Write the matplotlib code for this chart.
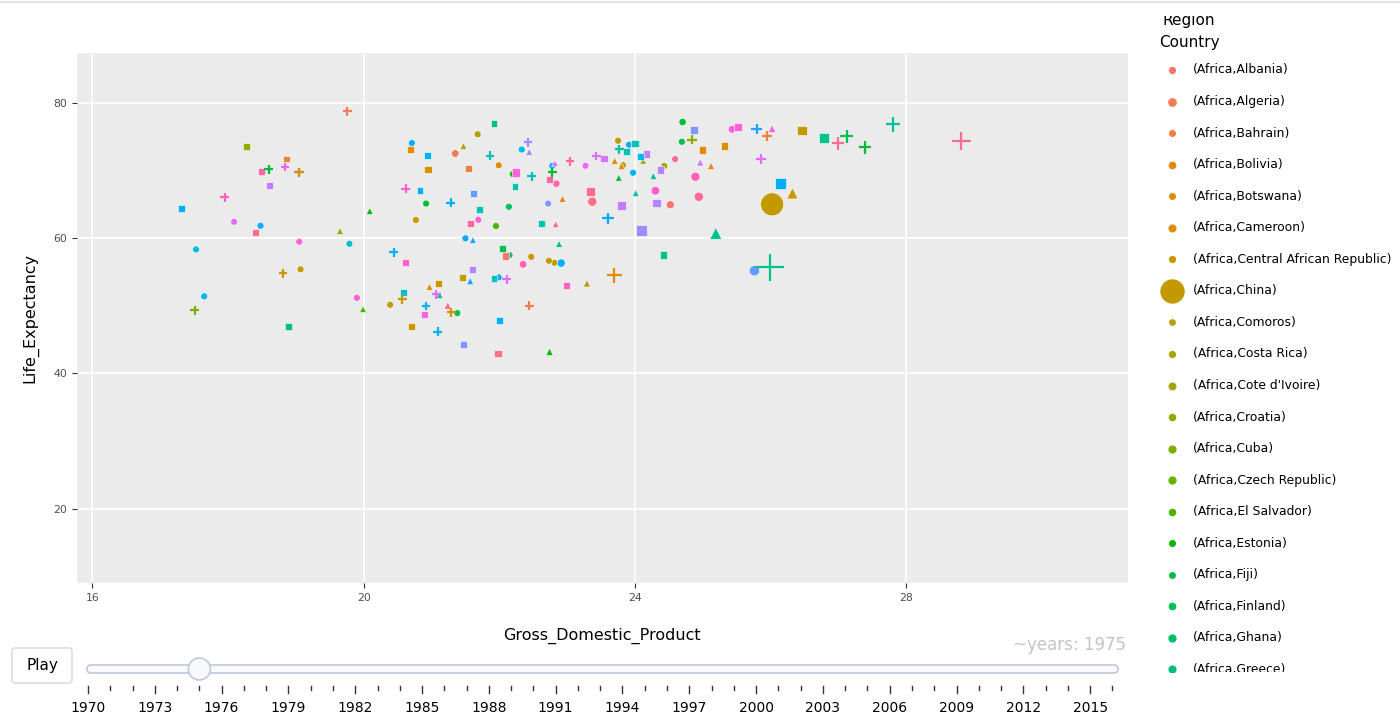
import numpy as np
import matplotlib
matplotlib.use('Agg')
import matplotlib.pyplot as plt
from matplotlib.patches import FancyBboxPatch, Circle

plt.rcParams['font.family'] = ['DejaVu Sans']

## data (frame: year 1975)
# circles
circ_gdp = [18.09, 18.48, 19.05, 17.53, 19.79, 19.07, 17.65, 19.90, 20.71, 21.35, 21.68, 20.92, 20.77,
            21.50, 21.38, 20.39, 21.99, 22.33, 22.20, 22.25, 22.14, 21.69, 21.95, 22.15, 22.47, 22.35,
            22.73, 22.81, 22.91, 21.99, 22.72, 23.37, 23.27, 23.75, 23.91, 23.82, 23.97, 24.43, 24.30,
            24.52, 24.59, 24.70, 24.69, 25.43, 24.89, 24.94, 26.02, 25.76, 22.78, 22.84]
circ_life = [62.43, 61.84, 59.47, 58.35, 59.18, 55.39, 51.40, 51.18, 74.08, 72.53, 75.37, 65.13, 62.69,
             59.98, 48.92, 50.15, 70.78, 73.12, 69.49, 69.60, 64.65, 62.73, 61.80, 57.50, 57.25, 56.13,
             56.67, 56.37, 56.32, 54.20, 65.13, 65.40, 70.72, 74.42, 73.83, 70.82, 69.69, 70.68, 67.02,
             64.95, 71.71, 77.19, 74.27, 76.11, 69.09, 66.13, 65.01, 55.19, 70.71, 68.06]
circ_country = [38, 29, 41, 25, 25, 7, 28, 42, 29, 1, 9, 16, 6, 30, 17, 7, 4, 27, 15, 29, 18, 41, 14, 19,
                5, 44, 7, 8, 29, 28, 33, 47, 39, 8, 31, 9, 29, 10, 43, 0, 46, 16, 17, 41, 44, 45, 7, 32,
                29, 45]
circ_pop = [10, 10, 10, 10, 10, 10, 10, 10, 10, 20, 10, 10, 10, 10, 10, 10, 10, 10, 10, 10, 10, 10, 10,
            10, 10, 20, 10, 10, 30, 10, 10, 50, 10, 10, 10, 10, 10, 10, 40, 25, 10, 15, 10, 20, 50, 50,
            920, 80, 10, 15]

# triangles
tri_gdp = [19.65, 20.09, 19.99, 21.47, 21.61, 21.57, 20.97, 21.12, 21.24, 22.44, 23.29, 22.74, 22.88,
           22.83, 22.93, 23.70, 23.80, 24.12, 23.76, 24.27, 24.01, 26.02, 24.96, 25.12, 26.32, 25.19, 22.82]
tri_life = [61.06, 64.02, 49.51, 73.64, 59.73, 53.66, 52.80, 51.58, 50.03, 72.78, 53.32, 43.19, 59.16,
            62.07, 65.82, 71.46, 70.68, 71.46, 68.95, 69.20, 66.68, 76.20, 71.22, 70.68, 66.64, 60.72, 71.08]
tri_country = [11, 15, 14, 9, 31, 31, 4, 21, 46, 35, 8, 15, 20, 47, 3, 5, 5, 9, 16, 21, 21, 40, 36, 3, 6,
               20, 37]
tri_pop = [10, 10, 10, 10, 10, 15, 10, 10, 15, 10, 15, 15, 10, 10, 10, 10, 15, 10, 10, 10, 10, 20, 15, 15,
           110, 130, 10]

# squares
sq_gdp = [18.27, 18.86, 18.50, 18.61, 17.31, 18.41, 18.89, 20.69, 20.94, 20.95, 21.54, 20.83, 21.62,
          21.57, 20.62, 21.61, 21.45, 21.10, 20.59, 20.90, 20.71, 21.47, 21.92, 22.24, 22.23, 21.71,
          22.04, 22.09, 21.92, 22.99, 22.00, 21.98, 22.62, 23.34, 23.80, 24.10, 23.54, 24.00, 23.87,
          24.08, 24.17, 24.37, 24.32, 24.87, 24.99, 25.32, 25.52, 26.14, 24.42, 26.46, 26.78, 22.74]
sq_life = [73.59, 71.71, 69.89, 67.82, 64.42, 60.86, 47.00, 73.15, 72.26, 70.19, 70.34, 67.12, 66.68,
           62.17, 56.43, 55.39, 54.15, 53.26, 52.00, 48.65, 47.00, 44.29, 77.00, 69.71, 67.69, 64.28,
           58.47, 57.35, 54.03, 52.96, 47.77, 42.93, 62.21, 66.86, 64.80, 61.10, 71.79, 73.98, 72.80,
           72.05, 72.45, 70.09, 65.20, 76.00, 73.04, 73.68, 76.49, 68.12, 57.50, 75.96, 74.82, 68.68]
sq_country = [11, 2, 45, 36, 29, 46, 19, 4, 28, 6, 2, 29, 32, 45, 42, 35, 8, 6, 24, 40, 6, 33, 19, 41,
              22, 23, 17, 0, 24, 42, 29, 47, 22, 46, 36, 34, 37, 22, 23, 27, 36, 35, 35, 33, 3, 5, 41,
              29, 20, 7, 20, 45]
sq_pop = [10, 10, 10, 10, 10, 10, 10, 10, 10, 15, 10, 10, 12, 10, 10, 12, 12, 15, 12, 12, 12, 12, 10,
          30, 10, 10, 10, 15, 10, 15, 12, 12, 15, 40, 40, 110, 15, 15, 10, 12, 15, 12, 40, 15, 15, 20,
          20, 110, 15, 60, 75, 15]

# crosses
plus_gdp = [19.76, 18.60, 18.84, 19.04, 19.05, 17.95, 18.81, 17.51, 20.62, 21.28, 20.44, 20.57, 21.07,
            21.29, 20.92, 21.09, 21.86, 22.42, 22.48, 22.11, 23.69, 22.44, 23.60, 23.04, 23.43, 23.77,
            24.84, 25.79, 25.94, 25.86, 25.99, 26.99, 27.12, 27.39, 27.80, 28.81, 22.78]
plus_life = [78.77, 70.19, 70.53, 69.74, 69.80, 66.04, 54.80, 49.32, 67.32, 65.25, 57.90, 50.95, 51.70,
             49.03, 49.96, 46.14, 72.20, 74.18, 69.20, 53.91, 54.55, 50.00, 62.95, 71.39, 72.16, 73.19,
             74.57, 76.11, 75.07, 71.71, 55.70, 74.04, 75.09, 73.44, 76.85, 74.42, 69.76]
plus_country = [1, 16, 39, 43, 5, 43, 6, 12, 42, 29, 28, 7, 38, 5, 28, 28, 23, 34, 23, 38, 4, 1, 30, 46,
                37, 21, 11, 31, 2, 38, 20, 46, 17, 16, 21, 46, 16]
plus_pop = [10, 10, 10, 10, 10, 10, 10, 10, 10, 12, 12, 12, 10, 12, 10, 12, 10, 10, 12, 10, 110, 10, 40,
            10, 10, 12, 15, 25, 25, 20, 620, 60, 70, 60, 100, 210, 12]

# legend (first entries visible)
legend_names = ['Albania', 'Algeria', 'Bahrain', 'Bolivia', 'Botswana', 'Cameroon',
                'Central African Republic', 'China', 'Comoros', 'Costa Rica', "Cote d'Ivoire",
                'Croatia', 'Cuba', 'Czech Republic', 'El Salvador', 'Estonia', 'Fiji', 'Finland',
                'Ghana', 'Greece']
legend_pop = [2, 15, 1, 5, 1, 8, 2, 920, 0.3, 2, 7, 4, 9, 10, 4, 1.4, 0.6, 4.7, 10, 9]

years = list(range(1970, 2017))
year_labels = list(range(1970, 2016, 3))
current_year = 1975
n_countries = 48


def hue_color(i, n=n_countries, c=100.0, l=65.0):
    # ggplot-style hue palette (HCL -> sRGB)
    h = np.deg2rad(15 + 360.0 * i / n)
    u, v = c * np.cos(h), c * np.sin(h)
    Xn, Yn, Zn = 95.047, 100.0, 108.883
    Y = Yn * ((l + 16) / 116) ** 3
    d = Xn + 15 * Yn + 3 * Zn
    up = u / (13 * l) + 4 * Xn / d
    vp = v / (13 * l) + 9 * Yn / d
    X = 9 * Y * up / (4 * vp)
    Z = Y * (12 - 3 * up - 20 * vp) / (4 * vp)
    M = np.array([[3.2404542, -1.5371385, -0.4985314],
                  [-0.9692660, 1.8760108, 0.0415560],
                  [0.0556434, -0.2040259, 1.0572252]])
    rgb = M @ (np.array([X, Y, Z]) / 100.0)
    rgb = np.where(rgb <= 0.0031308, 12.92 * rgb, 1.055 * np.clip(rgb, 0, None) ** (1 / 2.4) - 0.055)
    return tuple(np.clip(rgb, 0, 1))


def marker_area(pop, plus=False):
    pop = np.asarray(pop, dtype=float)
    if plus:
        d = 6 + 26 * np.sqrt(pop / 920.0)
    else:
        d = 5 + 18 * np.sqrt(pop / 920.0)
    return (d * 0.72) ** 2


W, H = 1400, 726
fig = plt.figure(figsize=(W / 100, H / 100), dpi=100)

# ui overlay in pixel coordinates (slider, button)
ui = fig.add_axes([0, 0, 1, 1])
ui.set_xlim(0, W)
ui.set_ylim(H, 0)
ui.axis('off')
ui.plot([0, W], [2, 2], color='#dde3ea', lw=1.5)

ax = fig.add_axes([77 / W, (H - 583) / H, 1051 / W, 530 / H])
ax.set_facecolor('#EBEBEB')
ax.set_xlim(15.775, 31.265)
ax.set_ylim(8.99, 87.4)
for s in ax.spines.values():
    s.set_visible(False)
ax.set_xticks([16, 20, 24, 28])
ax.set_yticks([20, 40, 60, 80])
ax.grid(True, color='white', lw=1.1)
ax.set_axisbelow(True)
ax.tick_params(colors='#333333', labelcolor='#4D4D4D', labelsize=7.8, length=3.5, width=0.8)

groups = [(circ_gdp, circ_life, circ_country, circ_pop, 'o'),
          (tri_gdp, tri_life, tri_country, tri_pop, '^'),
          (sq_gdp, sq_life, sq_country, sq_pop, 's')]
for gx, gy, gc, gp, mk in groups:
    order = np.argsort(gp)[::-1]
    ax.scatter(np.array(gx)[order], np.array(gy)[order], s=marker_area(np.array(gp)[order]),
               c=[hue_color(gc[k]) for k in order], marker=mk, edgecolors='white',
               linewidths=0.4, zorder=3)
ax.scatter(plus_gdp, plus_life, s=marker_area(plus_pop, plus=True),
           c=[hue_color(k) for k in plus_country], marker='+', linewidths=1.6, zorder=4)

fig.text(602 / W, 1 - 636 / H, 'Gross_Domestic_Product', ha='center', va='center', fontsize=11.5)
fig.text(30 / W, 1 - 318 / H, 'Life_Expectancy', ha='center', va='center', rotation=90, fontsize=11.5)

# legend (scrolled, clipped at top and bottom)
leg = fig.add_axes([1140 / W, (H - 672) / H, 260 / W, 656 / H])
leg.set_xlim(1140, 1400)
leg.set_ylim(672, 16)
leg.axis('off')
leg.text(1162, 21, 'Region', fontsize=11, va='center', ha='left', clip_on=True)
leg.text(1159, 42, 'Country', fontsize=11, va='center', ha='left', clip_on=True)
for i, name in enumerate(legend_names):
    yy = 70 + 31.55 * i
    leg.scatter([1172], [yy], s=marker_area(legend_pop[i]), color=hue_color(i), zorder=3)
    leg.text(1193, yy, '(Africa,%s)' % name, fontsize=8.9, va='center', ha='left', clip_on=True)

# play button and slider
ui.add_patch(FancyBboxPatch((12, 648), 60, 35, boxstyle='round,pad=0,rounding_size=3',
                            fc='white', ec='#d6d6d6', lw=1))
ui.text(42, 665.5, 'Play', ha='center', va='center', fontsize=11)
ui.add_patch(FancyBboxPatch((87, 665), 1031, 8, boxstyle='round,pad=0,rounding_size=4',
                            fc='#f8fafc', ec='#bec8d9', lw=1.2))


def slider_x(yr):
    return 88 + (yr - 1970) * 22.27


for yr in years:
    major = yr in year_labels
    ui.plot([slider_x(yr)] * 2, [686, 693 if major else 690], color='#333333', lw=1)
for yr in year_labels:
    ui.text(slider_x(yr), 708, str(yr), ha='center', va='center', fontsize=10)
ui.add_patch(Circle((slider_x(current_year), 669), 11, fc='#f6f8fa', ec='#bec8d9', lw=1.2, zorder=5))
ui.text(1126, 645, '~years: %d' % current_year, ha='right', va='center', fontsize=12, color='#c4c4c4')

plt.savefig('out.png', dpi=100)
